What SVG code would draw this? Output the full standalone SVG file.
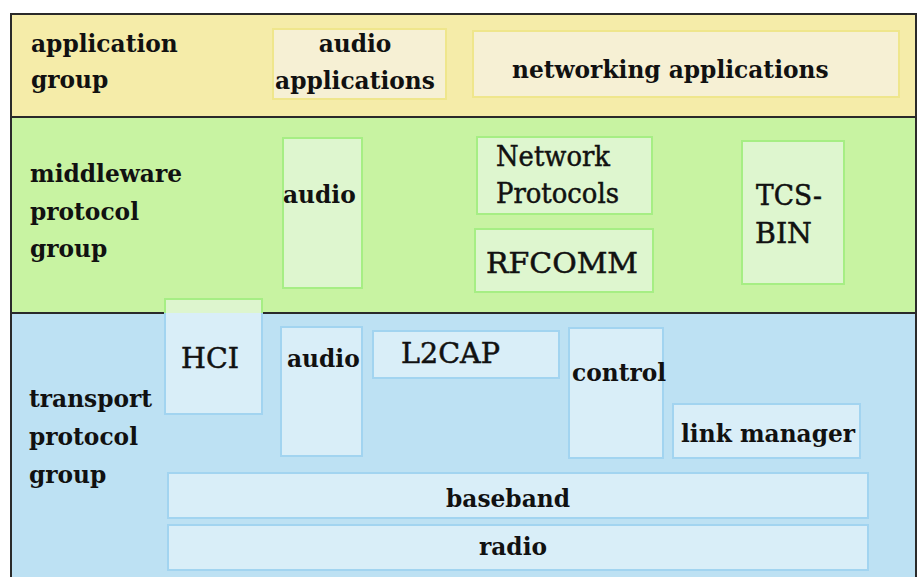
<svg xmlns="http://www.w3.org/2000/svg" width="918" height="577" viewBox="0 0 918 577">
<style>
text{font-family:"DejaVu Serif","Liberation Serif",serif;font-size:23.3px;fill:#111;}
.b{font-weight:bold;}
.r{font-weight:normal;font-size:27px;stroke:#111;stroke-width:0.5;}
.m{text-anchor:middle;}
.yb{fill:#f6f0d4;stroke:#efe68c;stroke-width:2;}
.gb{fill:#def6cf;stroke:#a6ee84;stroke-width:2;}
.bb{fill:#d9eef8;stroke:#a2d4f0;stroke-width:2;}
.sep{stroke:#2a2a2a;stroke-width:2;}
</style>
<rect width="918" height="577" fill="#ffffff"/>
<g id="bands">
<rect x="10" y="14" width="906" height="103" fill="#f5eca9"/>
<rect x="10" y="117" width="906" height="196" fill="#c8f3a2"/>
<rect x="10" y="313" width="906" height="264" fill="#bde1f3"/>
<line class="sep" x1="10" y1="14" x2="916" y2="14"/>
<line class="sep" x1="10" y1="117" x2="916" y2="117"/>
<line class="sep" x1="10" y1="313" x2="916" y2="313"/>
<line class="sep" x1="11" y1="13" x2="11" y2="577"/>
<line class="sep" x1="916" y1="13" x2="916" y2="577"/>
</g>
<g id="application-group">
<text class="b" x="31" y="52">application</text>
<text class="b" x="31" y="88">group</text>
</g>
<g id="audio-applications">
<rect class="yb" x="273" y="29" width="173" height="70"/>
<text class="b m" x="355" y="52">audio</text>
<text class="b m" x="355" y="89">applications</text>
</g>
<g id="networking-applications">
<rect class="yb" x="473" y="31" width="426" height="66"/>
<text class="b" x="512" y="78">networking applications</text>
</g>
<g id="middleware-protocol-group">
<text class="b" x="30" y="182">middleware</text>
<text class="b" x="30" y="220">protocol</text>
<text class="b" x="30" y="257">group</text>
</g>
<g id="middleware-audio">
<rect class="gb" x="283" y="138" width="79" height="150"/>
<text class="b" x="283" y="203">audio</text>
</g>
<g id="network-protocols">
<rect class="gb" x="477" y="137" width="175" height="77"/>
<text class="r" x="496" y="166" textLength="114" lengthAdjust="spacingAndGlyphs">Network</text>
<text class="r" x="496" y="203" textLength="123" lengthAdjust="spacingAndGlyphs">Protocols</text>
</g>
<g id="rfcomm">
<rect class="gb" x="475" y="229" width="178" height="63"/>
<text class="r" x="486" y="273" textLength="152" lengthAdjust="spacingAndGlyphs">RFCOMM</text>
</g>
<g id="tcs-bin">
<rect class="gb" x="742" y="141" width="102" height="143"/>
<text class="r" x="756" y="205" textLength="66" lengthAdjust="spacingAndGlyphs">TCS-</text>
<text class="r" x="755" y="243" textLength="57" lengthAdjust="spacingAndGlyphs">BIN</text>
</g>
<g id="transport-protocol-group">
<text class="b" x="29" y="407">transport</text>
<text class="b" x="29" y="445">protocol</text>
<text class="b" x="29" y="483">group</text>
</g>
<g id="hci">
<rect class="bb" x="165" y="299" width="97" height="115"/>
<rect x="165" y="299" width="97" height="14" fill="#ddf5ce" stroke="none"/>
<path d="M165 313 V299 H262 V313" fill="none" stroke="#a6ee84" stroke-width="2"/>
<text class="r" x="181" y="368" textLength="58" lengthAdjust="spacingAndGlyphs">HCI</text>
</g>
<g id="transport-audio">
<rect class="bb" x="281" y="327" width="81" height="129"/>
<text class="b" x="287" y="367">audio</text>
</g>
<g id="l2cap">
<rect class="bb" x="373" y="331" width="186" height="47"/>
<text class="r" x="401" y="363" textLength="99" lengthAdjust="spacingAndGlyphs">L2CAP</text>
</g>
<g id="control">
<rect class="bb" x="569" y="328" width="94" height="130"/>
<text class="b" x="572" y="381">control</text>
</g>
<g id="link-manager">
<rect class="bb" x="673" y="404" width="187" height="54"/>
<text class="b" x="681" y="442">link manager</text>
</g>
<g id="baseband">
<rect class="bb" x="168" y="473" width="700" height="45"/>
<text class="b m" x="508" y="507">baseband</text>
</g>
<g id="radio">
<rect class="bb" x="168" y="525" width="700" height="45"/>
<text class="b m" x="513" y="555">radio</text>
</g>
<g id="connectors"></g>
</svg>
